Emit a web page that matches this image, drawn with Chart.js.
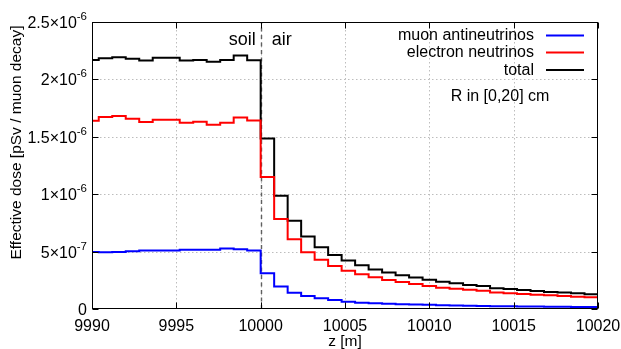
<!DOCTYPE html>
<html><head><meta charset="utf-8">
<script src="https://cdn.jsdelivr.net/npm/chart.js@4"></script>
<style>html,body{margin:0;padding:0;background:#fff;overflow:hidden}</style>
</head><body>
<canvas id="c" width="621" height="349"></canvas>
<script>
// Bin left edges of z [m] (0.8 m bins); last edge closes the histogram
const zLeft = [9989.6, 9990.4, 9991.2, 9992.0, 9992.8, 9993.6, 9994.4, 9995.2, 9996.0, 9996.8, 9997.6, 9998.4, 9999.2,
  10000.0, 10000.8, 10001.6, 10002.4, 10003.2, 10004.0, 10004.8, 10005.6, 10006.4, 10007.2, 10008.0, 10008.8,
  10009.6, 10010.4, 10011.2, 10012.0, 10012.8, 10013.6, 10014.4, 10015.2, 10016.0, 10016.8, 10017.6, 10018.4, 10019.2];
const zEnd = 10020.0;

// Effective dose [pSv / muon decay]
const muonAntineutrinos = [0.497e-6, 0.495e-6, 0.497e-6, 0.503e-6, 0.509e-6, 0.509e-6, 0.509e-6, 0.517e-6, 0.517e-6, 0.517e-6, 0.526e-6, 0.520e-6, 0.509e-6,
  0.311e-6, 0.195e-6, 0.142e-6, 0.113e-6, 0.093e-6, 0.079e-6, 0.064e-6, 0.055e-6, 0.050e-6, 0.045e-6, 0.042e-6, 0.040e-6,
  0.036e-6, 0.033e-6, 0.030e-6, 0.028e-6, 0.026e-6, 0.025e-6, 0.023e-6, 0.022e-6, 0.021e-6, 0.020e-6, 0.019e-6, 0.018e-6, 0.017e-6];
const electronNeutrinos = [1.640e-6, 1.673e-6, 1.681e-6, 1.658e-6, 1.629e-6, 1.649e-6, 1.649e-6, 1.623e-6, 1.632e-6, 1.606e-6, 1.623e-6, 1.669e-6, 1.643e-6,
  1.149e-6, 0.783e-6, 0.608e-6, 0.495e-6, 0.428e-6, 0.375e-6, 0.334e-6, 0.303e-6, 0.277e-6, 0.253e-6, 0.235e-6, 0.218e-6,
  0.201e-6, 0.186e-6, 0.177e-6, 0.168e-6, 0.158e-6, 0.143e-6, 0.137e-6, 0.131e-6, 0.125e-6, 0.119e-6, 0.113e-6, 0.107e-6, 0.102e-6];
const total = [2.170e-6, 2.184e-6, 2.193e-6, 2.180e-6, 2.164e-6, 2.188e-6, 2.188e-6, 2.164e-6, 2.170e-6, 2.153e-6, 2.170e-6, 2.208e-6, 2.167e-6,
  1.485e-6, 0.986e-6, 0.768e-6, 0.631e-6, 0.538e-6, 0.471e-6, 0.422e-6, 0.381e-6, 0.345e-6, 0.318e-6, 0.295e-6, 0.275e-6,
  0.255e-6, 0.238e-6, 0.224e-6, 0.210e-6, 0.200e-6, 0.180e-6, 0.175e-6, 0.166e-6, 0.157e-6, 0.148e-6, 0.143e-6, 0.137e-6, 0.128e-6];

const xTicks = [9990, 9995, 10000, 10005, 10010, 10015, 10020];
const yTicks = [0, 0.5e-6, 1.0e-6, 1.5e-6, 2.0e-6, 2.5e-6];
const yTickLabels = [["0", ""], ["5", "-7"], ["1", "-6"], ["1.5", "-6"], ["2", "-6"], ["2.5", "-6"]];
const boundaryZ = 10000;
const seriesNames = ["muon antineutrinos", "electron neutrinos", "total"];
const seriesColors = ["#0000ff", "#ff0000", "#000000"];

const FONT = '"Liberation Sans", Arial, Helvetica, sans-serif';

function steps(vals) {
  const pts = zLeft.map((z, i) => ({x: z, y: vals[i]}));
  pts.push({x: zEnd, y: vals[vals.length - 1]});
  return pts;
}

const decor = {
  id: 'decor',
  beforeDatasetsDraw(chart) {
    const {ctx, chartArea: a, scales: {x, y}} = chart;
    ctx.save();
    ctx.strokeStyle = '#bdbdbd';
    ctx.lineWidth = 1;
    ctx.setLineDash([1.5, 2.5]);
    xTicks.forEach(v => {
      const px = Math.round(x.getPixelForValue(v)) + 0.5;
      if (px <= a.left + 1 || px >= a.right - 1) return;
      ctx.beginPath(); ctx.moveTo(px, a.top); ctx.lineTo(px, a.bottom); ctx.stroke();
    });
    yTicks.forEach(v => {
      const py = Math.round(y.getPixelForValue(v)) + 0.5;
      if (py <= a.top + 1 || py >= a.bottom - 1) return;
      ctx.beginPath(); ctx.moveTo(a.left, py); ctx.lineTo(a.right, py); ctx.stroke();
    });
    // soil / air boundary
    const bx = Math.round(x.getPixelForValue(boundaryZ)) + 0.5;
    ctx.strokeStyle = '#606060';
    ctx.lineWidth = 1.4;
    ctx.setLineDash([4, 3.5]);
    ctx.beginPath(); ctx.moveTo(bx, a.bottom); ctx.lineTo(bx, a.top); ctx.stroke();
    ctx.restore();
  },
  afterDatasetsDraw(chart) {
    const {ctx, chartArea: a, scales: {x, y}} = chart;
    ctx.save();
    ctx.setLineDash([]);
    ctx.strokeStyle = '#000';
    ctx.lineWidth = 1;
    const L = Math.round(a.left) + 0.5, R = Math.round(a.right) - 0.5;
    const T = Math.round(a.top) + 0.5, B = Math.round(a.bottom) - 0.5;
    ctx.strokeRect(L, T, R - L, B - T);
    const tl = 6;
    ctx.beginPath();
    xTicks.forEach(v => {
      const px = Math.round(x.getPixelForValue(v)) + 0.5;
      ctx.moveTo(px, B); ctx.lineTo(px, B - tl);
      ctx.moveTo(px, T); ctx.lineTo(px, T + tl);
    });
    yTicks.forEach(v => {
      const py = Math.round(y.getPixelForValue(v)) + 0.5;
      ctx.moveTo(L, py); ctx.lineTo(L + tl, py);
      ctx.moveTo(R, py); ctx.lineTo(R - tl, py);
    });
    ctx.stroke();

    ctx.fillStyle = '#000';
    // x tick labels
    ctx.font = '16px ' + FONT;
    ctx.textAlign = 'center';
    ctx.textBaseline = 'alphabetic';
    xTicks.forEach(v => {
      ctx.fillText(String(v), x.getPixelForValue(v), 331);
    });
    // y tick labels
    yTicks.forEach((v, i) => {
      const py = y.getPixelForValue(v);
      const [m, e] = yTickLabels[i];
      const right = 87;
      ctx.textAlign = 'left';
      if (!e) {
        ctx.font = '16px ' + FONT;
        const w = ctx.measureText(m).width;
        ctx.fillText(m, right - w, py + 6);
        return;
      }
      const main = m + '\u00d710';
      ctx.font = '16px ' + FONT;
      const w1 = ctx.measureText(main).width;
      ctx.font = '11.5px ' + FONT;
      const w2 = ctx.measureText(e).width;
      const sx = right - w1 - w2;
      ctx.font = '16px ' + FONT;
      ctx.fillText(main, sx, py + 6);
      ctx.font = '11.5px ' + FONT;
      ctx.fillText(e, sx + w1, py - 2);
    });
    // axis titles
    ctx.font = '15.5px ' + FONT;
    ctx.textAlign = 'center';
    ctx.fillText('z [m]', (a.left + a.right) / 2, 346);
    ctx.save();
    ctx.translate(17, 142.5);
    ctx.rotate(-Math.PI / 2);
    ctx.textBaseline = 'middle';
    ctx.fillText('Effective dose [pSv / muon decay]', 0, 0);
    ctx.restore();
    // region labels
    const bx = x.getPixelForValue(boundaryZ);
    ctx.font = '18px ' + FONT;
    ctx.textAlign = 'right';
    ctx.fillText('soil', bx - 5, 45);
    ctx.textAlign = 'left';
    ctx.fillText('air', bx + 11, 45);
    // legend
    ctx.font = '16px ' + FONT;
    const rows = [35.5, 52.5, 70];
    seriesNames.forEach((n, i) => {
      ctx.textAlign = 'right';
      ctx.fillStyle = '#000';
      ctx.fillText(n, 534, rows[i] + 4.5);
      ctx.strokeStyle = seriesColors[i];
      ctx.lineWidth = 2;
      ctx.beginPath(); ctx.moveTo(546, rows[i]); ctx.lineTo(584, rows[i]); ctx.stroke();
    });
    ctx.fillStyle = '#000';
    ctx.textAlign = 'center';
    ctx.fillText('R in [0,20] cm', 500, 100.5);
    ctx.restore();
  }
};

const ds = (label, vals, color) => ({
  label, data: steps(vals), borderColor: color, backgroundColor: color,
  borderWidth: 2, pointRadius: 0, stepped: 'before', fill: false, tension: 0
});

new Chart(document.getElementById('c'), {
  type: 'line',
  data: {
    datasets: [
      ds(seriesNames[0], muonAntineutrinos, seriesColors[0]),
      ds(seriesNames[1], electronNeutrinos, seriesColors[1]),
      ds(seriesNames[2], total, seriesColors[2])
    ]
  },
  options: {
    responsive: false,
    animation: false,
    devicePixelRatio: 1,
    layout: {padding: {top: 22, right: 23, left: 0, bottom: 0}},
    plugins: {legend: {display: false}, tooltip: {enabled: false}},
    scales: {
      x: {type: 'linear', min: 9990, max: 10020,
        ticks: {display: false, stepSize: 5}, grid: {display: false}, border: {display: false},
        afterFit(s) { s.height = 40; }},
      y: {type: 'linear', min: 0, max: 2.5e-6,
        ticks: {display: false, stepSize: 0.5e-6}, grid: {display: false}, border: {display: false},
        afterFit(s) { s.width = 92; }}
    }
  },
  plugins: [decor]
});
</script>
</body></html>
